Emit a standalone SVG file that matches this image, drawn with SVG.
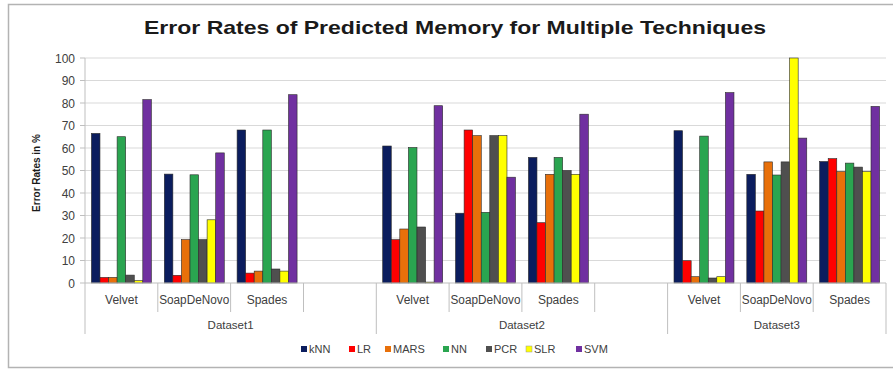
<svg xmlns="http://www.w3.org/2000/svg" width="893" height="369" viewBox="0 0 893 369">
<style>
text{font-family:"Liberation Sans",Arial,sans-serif;fill:#404040}
.tick{font-size:12px;text-anchor:end}
.cat{font-size:12px;text-anchor:middle}
.ds{font-size:11.5px;text-anchor:middle}
.leg{font-size:11px}
.grid{stroke:#d9d9d9;stroke-width:1}
.ax{stroke:#bfbfbf;stroke-width:1}
rect.b{stroke:#2b2b2b;stroke-width:0.6}
.knn{fill:#0b1d5e}.lr{fill:#ff0000}.mars{fill:#e8700a}.nn{fill:#2aa550}.pcr{fill:#4f4f4f}.slr{fill:#ffff00}.svm{fill:#7030a0}
</style>
<rect x="8.5" y="4.5" width="900" height="363" fill="#ffffff" stroke="#b3b3b3" stroke-width="1.5"/>
<text x="455" y="34" text-anchor="middle" font-size="19" font-weight="bold" style="fill:#1a1a1a" textLength="622" lengthAdjust="spacingAndGlyphs">Error Rates of Predicted Memory for Multiple Techniques</text>
<g id="grid">
<line class="grid" x1="85" y1="58" x2="886" y2="58"/>
<line class="grid" x1="85" y1="80.5" x2="886" y2="80.5"/>
<line class="grid" x1="85" y1="103" x2="886" y2="103"/>
<line class="grid" x1="85" y1="125.5" x2="886" y2="125.5"/>
<line class="grid" x1="85" y1="148" x2="886" y2="148"/>
<line class="grid" x1="85" y1="170.5" x2="886" y2="170.5"/>
<line class="grid" x1="85" y1="193" x2="886" y2="193"/>
<line class="grid" x1="85" y1="215.5" x2="886" y2="215.5"/>
<line class="grid" x1="85" y1="238" x2="886" y2="238"/>
<line class="grid" x1="85" y1="260.5" x2="886" y2="260.5"/>
</g>
<g id="yaxis">
<line class="ax" x1="85" y1="58" x2="85" y2="283"/>
<line class="ax" x1="80" y1="58" x2="85" y2="58"/>
<line class="ax" x1="80" y1="80.5" x2="85" y2="80.5"/>
<line class="ax" x1="80" y1="103" x2="85" y2="103"/>
<line class="ax" x1="80" y1="125.5" x2="85" y2="125.5"/>
<line class="ax" x1="80" y1="148" x2="85" y2="148"/>
<line class="ax" x1="80" y1="170.5" x2="85" y2="170.5"/>
<line class="ax" x1="80" y1="193" x2="85" y2="193"/>
<line class="ax" x1="80" y1="215.5" x2="85" y2="215.5"/>
<line class="ax" x1="80" y1="238" x2="85" y2="238"/>
<line class="ax" x1="80" y1="260.5" x2="85" y2="260.5"/>
<line class="ax" x1="80" y1="283" x2="85" y2="283"/>
<text class="tick" x="75" y="62.5">100</text>
<text class="tick" x="75" y="85">90</text>
<text class="tick" x="75" y="107.5">80</text>
<text class="tick" x="75" y="130">70</text>
<text class="tick" x="75" y="152.5">60</text>
<text class="tick" x="75" y="175">50</text>
<text class="tick" x="75" y="197.5">40</text>
<text class="tick" x="75" y="220">30</text>
<text class="tick" x="75" y="242.5">20</text>
<text class="tick" x="75" y="265">10</text>
<text class="tick" x="75" y="287.5">0</text>
<text x="40" y="173" transform="rotate(-90 40 173)" text-anchor="middle" font-size="10" font-weight="bold" style="fill:#1a1a1a">Error Rates in %</text>
</g>
<g id="bars">
<g id="knn" class="knn">
<rect class="b" x="91.4" y="133.4" width="8.57" height="149.6"/>
<rect class="b" x="164.3" y="174.1" width="8.57" height="108.9"/>
<rect class="b" x="237.1" y="130" width="8.57" height="153"/>
<rect class="b" x="382.7" y="146" width="8.57" height="137"/>
<rect class="b" x="455.5" y="213.2" width="8.57" height="69.8"/>
<rect class="b" x="528.4" y="157.4" width="8.57" height="125.6"/>
<rect class="b" x="674" y="130.7" width="8.57" height="152.3"/>
<rect class="b" x="746.8" y="174.3" width="8.57" height="108.7"/>
<rect class="b" x="819.6" y="161.5" width="8.57" height="121.5"/>
</g>
<g id="lr" class="lr">
<rect class="b" x="100" y="277.4" width="8.57" height="5.6"/>
<rect class="b" x="172.8" y="275.3" width="8.57" height="7.7"/>
<rect class="b" x="245.6" y="273.1" width="8.57" height="9.9"/>
<rect class="b" x="391.3" y="239.6" width="8.57" height="43.4"/>
<rect class="b" x="464.1" y="130" width="8.57" height="153"/>
<rect class="b" x="536.9" y="222.7" width="8.57" height="60.3"/>
<rect class="b" x="682.6" y="260.7" width="8.57" height="22.3"/>
<rect class="b" x="755.4" y="211" width="8.57" height="72"/>
<rect class="b" x="828.2" y="158.6" width="8.57" height="124.4"/>
</g>
<g id="mars" class="mars">
<rect class="b" x="108.6" y="277.4" width="8.57" height="5.6"/>
<rect class="b" x="181.4" y="239.6" width="8.57" height="43.4"/>
<rect class="b" x="254.2" y="271.1" width="8.57" height="11.9"/>
<rect class="b" x="399.8" y="229" width="8.57" height="54"/>
<rect class="b" x="472.7" y="135.6" width="8.57" height="147.4"/>
<rect class="b" x="545.5" y="174.3" width="8.57" height="108.7"/>
<rect class="b" x="691.1" y="276.7" width="8.57" height="6.3"/>
<rect class="b" x="763.9" y="161.9" width="8.57" height="121.1"/>
<rect class="b" x="836.8" y="171.6" width="8.57" height="111.4"/>
</g>
<g id="nn" class="nn">
<rect class="b" x="117.1" y="136.7" width="8.57" height="146.3"/>
<rect class="b" x="190" y="174.8" width="8.57" height="108.2"/>
<rect class="b" x="262.8" y="130" width="8.57" height="153"/>
<rect class="b" x="408.4" y="147.5" width="8.57" height="135.5"/>
<rect class="b" x="481.2" y="212.3" width="8.57" height="70.7"/>
<rect class="b" x="554.1" y="157.4" width="8.57" height="125.6"/>
<rect class="b" x="699.7" y="136.1" width="8.57" height="146.9"/>
<rect class="b" x="772.5" y="175" width="8.57" height="108"/>
<rect class="b" x="845.3" y="163.1" width="8.57" height="119.9"/>
</g>
<g id="pcr" class="pcr">
<rect class="b" x="125.7" y="275.1" width="8.57" height="7.9"/>
<rect class="b" x="198.5" y="239.6" width="8.57" height="43.4"/>
<rect class="b" x="271.3" y="269" width="8.57" height="14"/>
<rect class="b" x="417" y="227" width="8.57" height="56"/>
<rect class="b" x="489.8" y="135.6" width="8.57" height="147.4"/>
<rect class="b" x="562.6" y="170.5" width="8.57" height="112.5"/>
<rect class="b" x="708.3" y="278" width="8.57" height="5"/>
<rect class="b" x="781.1" y="161.9" width="8.57" height="121.1"/>
<rect class="b" x="853.9" y="167.1" width="8.57" height="115.9"/>
</g>
<g id="slr" class="slr">
<rect class="b" x="134.3" y="280.7" width="8.57" height="2.3"/>
<rect class="b" x="207.1" y="219.8" width="8.57" height="63.2"/>
<rect class="b" x="279.9" y="271.1" width="8.57" height="11.9"/>
<rect class="b" x="425.6" y="282.1" width="8.57" height="0.9"/>
<rect class="b" x="498.4" y="135.6" width="8.57" height="147.4"/>
<rect class="b" x="571.2" y="174.3" width="8.57" height="108.7"/>
<rect class="b" x="716.8" y="276.7" width="8.57" height="6.3"/>
<rect class="b" x="789.6" y="58" width="8.57" height="225"/>
<rect class="b" x="862.5" y="171.6" width="8.57" height="111.4"/>
</g>
<g id="svm" class="svm">
<rect class="b" x="142.8" y="99.6" width="8.57" height="183.4"/>
<rect class="b" x="215.7" y="152.9" width="8.57" height="130.1"/>
<rect class="b" x="288.5" y="94.7" width="8.57" height="188.3"/>
<rect class="b" x="434.1" y="105.7" width="8.57" height="177.3"/>
<rect class="b" x="506.9" y="177.2" width="8.57" height="105.8"/>
<rect class="b" x="579.8" y="114.2" width="8.57" height="168.8"/>
<rect class="b" x="725.4" y="92.6" width="8.57" height="190.4"/>
<rect class="b" x="798.2" y="138.1" width="8.57" height="144.9"/>
<rect class="b" x="871" y="106.4" width="8.57" height="176.6"/>
</g>
</g>
<g id="xaxis">
<line class="ax" x1="85" y1="283" x2="886" y2="283"/>
<line class="ax" x1="157.8" y1="283" x2="157.8" y2="312"/>
<line class="ax" x1="230.6" y1="283" x2="230.6" y2="312"/>
<line class="ax" x1="303.5" y1="283" x2="303.5" y2="312"/>
<line class="ax" x1="449.1" y1="283" x2="449.1" y2="312"/>
<line class="ax" x1="521.9" y1="283" x2="521.9" y2="312"/>
<line class="ax" x1="594.7" y1="283" x2="594.7" y2="312"/>
<line class="ax" x1="740.4" y1="283" x2="740.4" y2="312"/>
<line class="ax" x1="813.2" y1="283" x2="813.2" y2="312"/>
<line class="ax" x1="85" y1="283" x2="85" y2="334"/>
<line class="ax" x1="376.3" y1="283" x2="376.3" y2="334"/>
<line class="ax" x1="667.6" y1="283" x2="667.6" y2="334"/>
<line class="ax" x1="886" y1="283" x2="886" y2="334"/>
<text class="cat" x="121.4" y="304">Velvet</text>
<text class="cat" x="194.2" y="304" textLength="70" lengthAdjust="spacingAndGlyphs">SoapDeNovo</text>
<text class="cat" x="267" y="304">Spades</text>
<text class="cat" x="412.7" y="304">Velvet</text>
<text class="cat" x="485.5" y="304" textLength="70" lengthAdjust="spacingAndGlyphs">SoapDeNovo</text>
<text class="cat" x="558.3" y="304">Spades</text>
<text class="cat" x="704" y="304">Velvet</text>
<text class="cat" x="776.8" y="304" textLength="70" lengthAdjust="spacingAndGlyphs">SoapDeNovo</text>
<text class="cat" x="849.6" y="304">Spades</text>
<text class="ds" x="230.6" y="329">Dataset1</text>
<text class="ds" x="521.9" y="329">Dataset2</text>
<text class="ds" x="776.8" y="329">Dataset3</text>
</g>
<g id="legend">
<rect class="knn" x="301" y="346" width="6" height="6"/><text class="leg" x="309" y="353">kNN</text>
<rect class="lr" x="349" y="346" width="6" height="6"/><text class="leg" x="357" y="353">LR</text>
<rect class="mars" x="385" y="346" width="6" height="6"/><text class="leg" x="393" y="353">MARS</text>
<rect class="nn" x="443" y="346" width="6" height="6"/><text class="leg" x="451" y="353">NN</text>
<rect class="pcr" x="486" y="346" width="6" height="6"/><text class="leg" x="494" y="353">PCR</text>
<rect class="slr" x="526" y="346" width="6" height="6" stroke="#999" stroke-width="0.5"/><text class="leg" x="534" y="353">SLR</text>
<rect class="svm" x="576" y="346" width="6" height="6"/><text class="leg" x="584" y="353">SVM</text>
</g>
</svg>
